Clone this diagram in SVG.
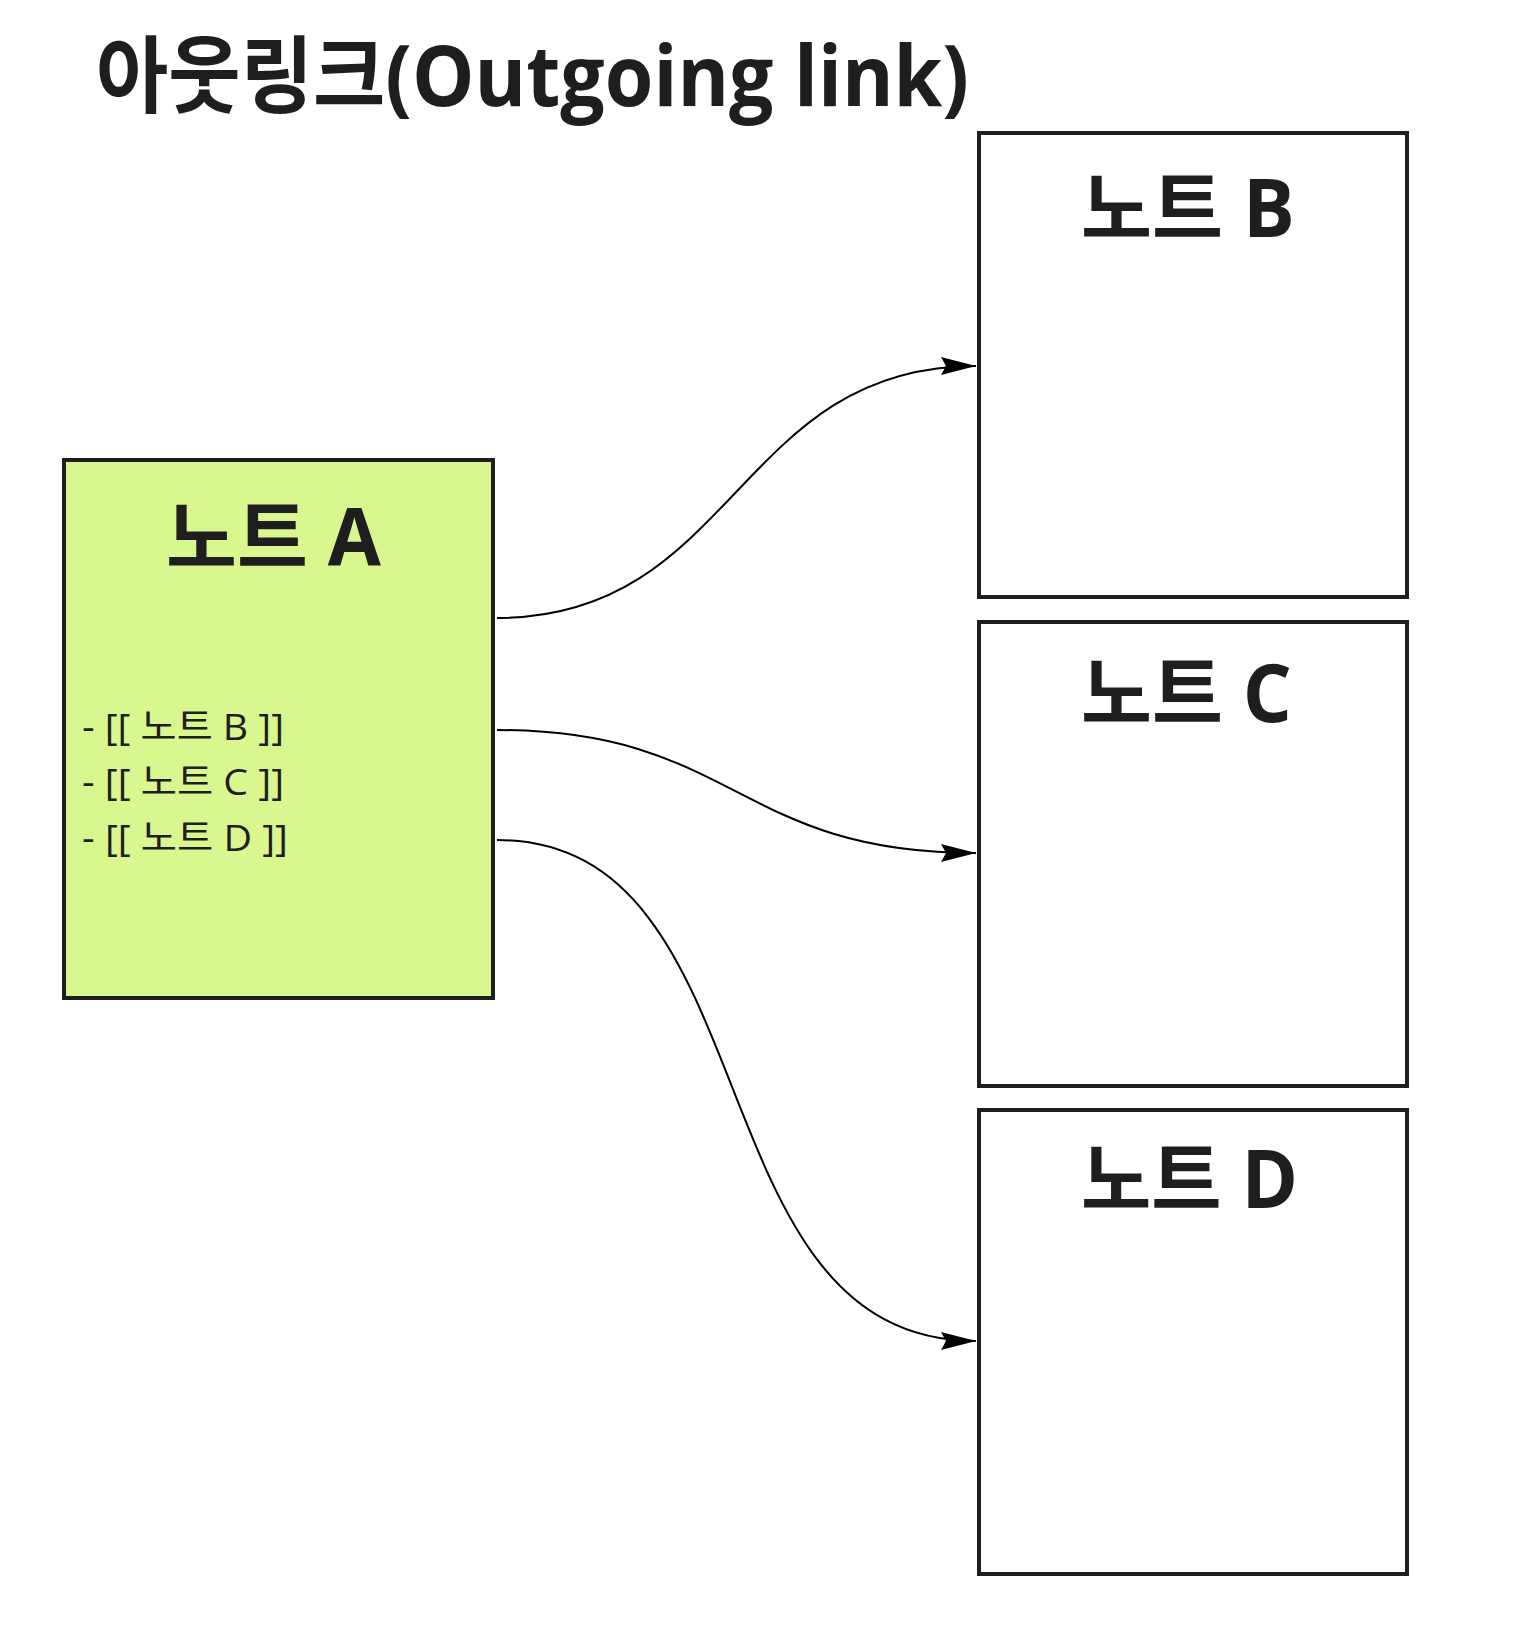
<svg xmlns="http://www.w3.org/2000/svg" width="1524" height="1634" viewBox="0 0 1524 1634">
  <style>
    .node { stroke: #1e1e1e; stroke-width: 4; }
    .label { font-family: "Open Sans", "Noto Sans CJK KR", sans-serif; font-weight: 700; fill: #1e1e1e; }
    .body { font-family: "Open Sans", "Noto Sans CJK KR", sans-serif; font-weight: 400; font-size: 37px; fill: #1e1e1e; }
    .edge { fill: none; stroke: #000; stroke-width: 2; }
  </style>
  <defs>
    <marker id="arrow" markerUnits="userSpaceOnUse" markerWidth="40" markerHeight="20" refX="35" refY="9" orient="auto">
      <path d="M0,0 L35,9 L0,18 L5,9 Z" fill="#000"/>
    </marker>
  </defs>
  <rect width="1524" height="1634" fill="#ffffff"/>

  <g id="title">
    <text class="label" x="96" y="106" font-size="84" textLength="873" lengthAdjust="spacingAndGlyphs">아웃링크(Outgoing link)</text>
  </g>

  <g id="node-a">
    <rect class="node" x="64" y="460" width="429" height="538" fill="#d8f78e"/>
    <text class="label" x="166" y="566" font-size="80" textLength="215" lengthAdjust="spacingAndGlyphs">노트 A</text>
    <text class="body" x="82" y="740" textLength="202" lengthAdjust="spacingAndGlyphs">- [[ 노트 B ]]</text>
    <text class="body" x="82" y="795" textLength="202" lengthAdjust="spacingAndGlyphs">- [[ 노트 C ]]</text>
    <text class="body" x="82" y="851" textLength="206" lengthAdjust="spacingAndGlyphs">- [[ 노트 D ]]</text>
  </g>

  <g id="node-b">
    <rect class="node" x="979" y="133" width="428" height="464" fill="#ffffff"/>
    <text class="label" x="1081" y="237" font-size="80" textLength="214" lengthAdjust="spacingAndGlyphs">노트 B</text>
  </g>

  <g id="node-c">
    <rect class="node" x="979" y="622" width="428" height="464" fill="#ffffff"/>
    <text class="label" x="1081" y="722" font-size="80" textLength="211" lengthAdjust="spacingAndGlyphs">노트 C</text>
  </g>

  <g id="node-d">
    <rect class="node" x="979" y="1110" width="428" height="464" fill="#ffffff"/>
    <text class="label" x="1081" y="1208" font-size="80" textLength="217" lengthAdjust="spacingAndGlyphs">노트 D</text>
  </g>

  <g id="connectors">
    <path class="edge" d="M497,618 C736,618 736,366 976,366" marker-end="url(#arrow)"/>
    <path class="edge" d="M497,730 C736,730 736,853 976,853" marker-end="url(#arrow)"/>
    <path class="edge" d="M497,840 C775,840 690,1341 976,1341" marker-end="url(#arrow)"/>
  </g>
</svg>
